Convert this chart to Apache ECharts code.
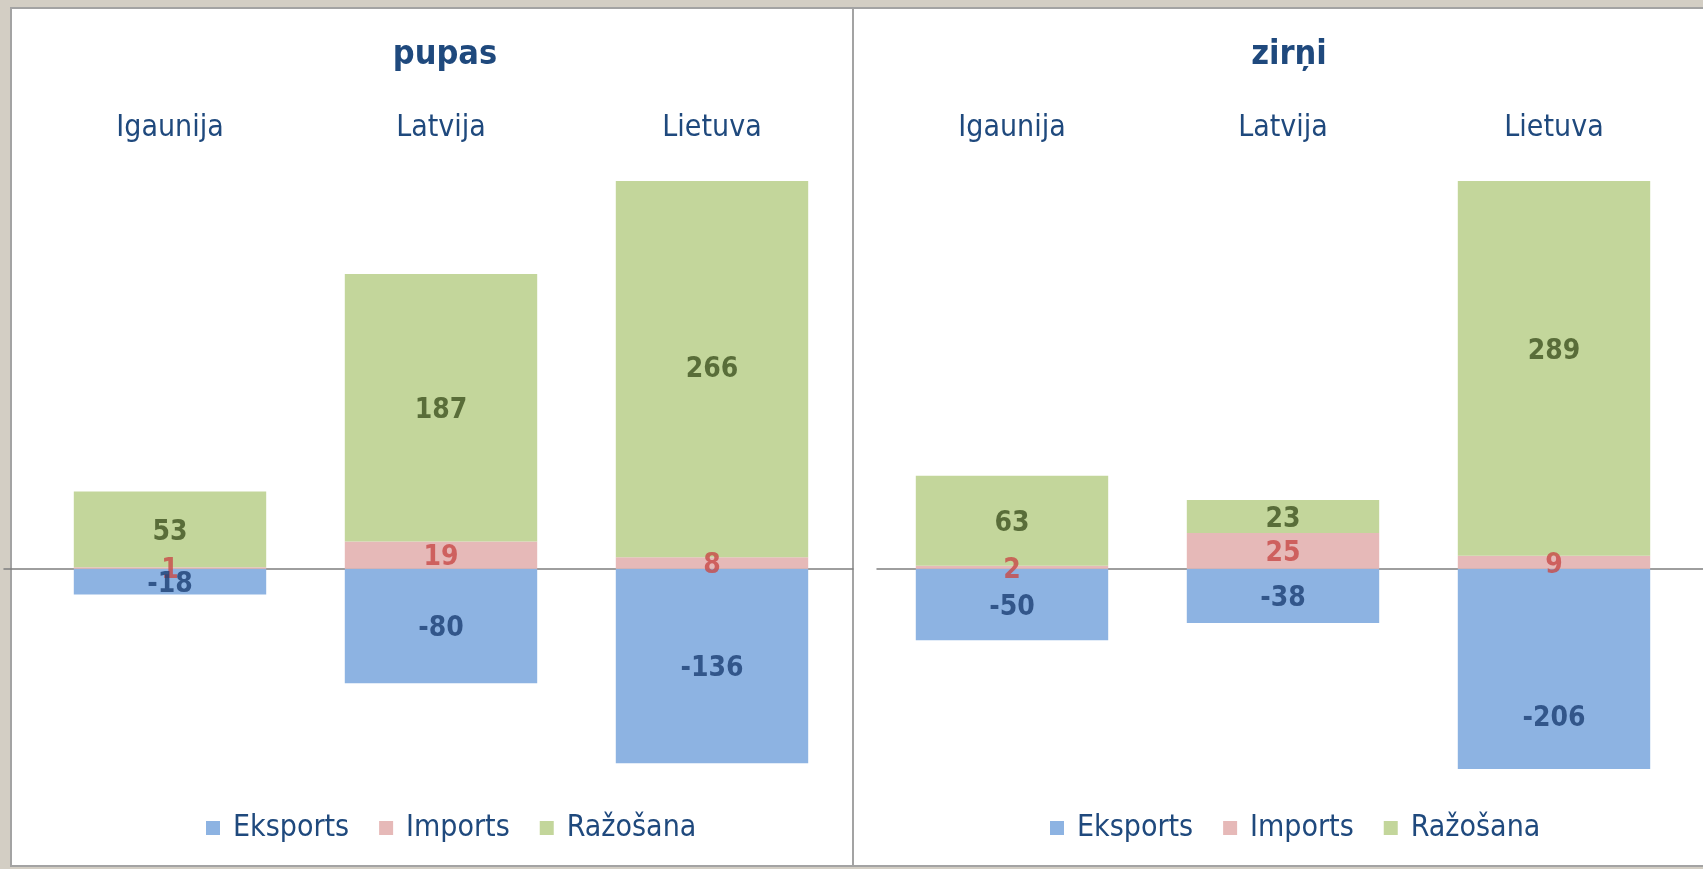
<!DOCTYPE html>
<html>
<head>
<meta charset="utf-8">
<script src="https://cdn.jsdelivr.net/npm/echarts@6/dist/echarts.min.js"></script>
<style>
html,body{margin:0;padding:0;background:#d3cec4;}
#chart{width:1703px;height:869px;}
</style>
</head>
<body>
<div id="chart"></div>
<script>
const categories = ['Igaunija', 'Latvija', 'Lietuva'];
const seriesNames = ['Eksports', 'Imports', 'Ražošana'];
const panelTitles = ['pupas', 'zirņi'];
const pupasEksports = [-18, -80, -136];
const pupasImports = [1, 19, 8];
const pupasRazosana = [53, 187, 266];
const zirniEksports = [-50, -38, -206];
const zirniImports = [2, 25, 9];
const zirniRazosana = [63, 23, 289];

const panelData = [
  [pupasEksports, pupasImports, pupasRazosana],
  [zirniEksports, zirniImports, zirniRazosana]
];

const FONT = "'DejaVu Sans Condensed', 'Liberation Sans', sans-serif";
const barColors = ['#8db3e2', '#e6b9b8', '#c3d69b'];
const labelColors = ['#1c3f74', '#c84a47', '#3e5220'];
const textColor = '#1f497d';
const Y_MIN = -140, Y_MAX = 271;

const panels = [
  { gridLeft: 34.5, center: 440, legendLeft: 201, lineLeft: 4, lineWidth: 849 },
  { gridLeft: 876.5, center: 1284, legendLeft: 1045, lineLeft: 877, lineWidth: 826 }
];

const grids = [], xAxes = [], yAxes = [], series = [], titles = [], legends = [];

panels.forEach((p, pi) => {
  grids.push({ left: p.gridLeft, width: 813, top: 181, height: 588 });
  xAxes.push({
    type: 'category', gridIndex: pi, data: categories, position: 'top',
    axisLine: { show: false, onZero: false }, axisTick: { show: false },
    axisLabel: { fontFamily: FONT, fontSize: 30, color: textColor, margin: 38 }
  });
  yAxes.push({
    type: 'value', gridIndex: pi, min: Y_MIN, max: Y_MAX, show: false,
    splitLine: { show: false }
  });
  const vals = panelData[pi];
  vals.forEach((arr, k) => {
    series.push({
      name: seriesNames[k], type: 'bar', stack: 'p' + pi,
      xAxisIndex: pi, yAxisIndex: pi,
      barCategoryGap: '29%', data: arr,
      itemStyle: { color: barColors[k] },
      label: { show: false }, clip: true, silent: true
    });
  });
  const posAcc = categories.map(() => 0);
  const negAcc = categories.map(() => 0);
  vals.forEach((arr, k) => {
    const pts = arr.map((v, j) => {
      let mid;
      if (v >= 0) { mid = posAcc[j] + v / 2; posAcc[j] += v; }
      else { mid = negAcc[j] + v / 2; negAcc[j] += v; }
      return { value: [j, mid], raw: v };
    });
    series.push({
      name: 'lbl' + pi + '_' + k, type: 'scatter',
      xAxisIndex: pi, yAxisIndex: pi,
      symbol: 'circle', symbolSize: 1, itemStyle: { color: 'rgba(0,0,0,0)' }, silent: true,
      z: 5 + (2 - k),
      data: pts,
      label: {
        show: true, position: 'inside', offset: [0, 3], formatter: (q) => String(q.data.raw),
        fontFamily: FONT, fontSize: 28, fontWeight: 'bold', color: labelColors[k]
      }
    });
  });
  titles.push({
    text: panelTitles[pi], left: p.center, top: 33, textAlign: 'center',
    textStyle: { fontFamily: FONT, fontSize: 34, fontWeight: 'bold', color: textColor }
  });
  legends.push({
    data: seriesNames, left: p.legendLeft, top: 808, orient: 'horizontal',
    icon: 'rect', itemWidth: 14, itemHeight: 14, itemGap: 30,
    textStyle: { fontFamily: FONT, fontSize: 30, color: textColor, padding: [0, 0, 0, 8] }
  });
});

// decorative zero-line grids (wider than the bar grids)
panels.forEach((p, pi) => {
  const gi = 2 + pi;
  grids.push({ left: p.lineLeft, width: p.lineWidth, top: 181, height: 588 });
  xAxes.push({
    type: 'value', gridIndex: gi, min: 0, max: 1, splitLine: { show: false },
    axisLine: { show: true, onZero: true, lineStyle: { color: '#7f7f7f', width: 1.5 } },
    axisTick: { show: false }, axisLabel: { show: false }
  });
  yAxes.push({ type: 'value', gridIndex: gi, min: Y_MIN, max: Y_MAX, show: false, splitLine: { show: false } });
});

const chart = echarts.init(document.getElementById('chart'));
chart.setOption({
  backgroundColor: '#d3cec4',
  animation: false,
  title: titles,
  legend: legends,
  grid: grids,
  xAxis: xAxes,
  yAxis: yAxes,
  graphic: [
    { type: 'rect', z: -1, shape: { x: 11, y: 8, width: 842, height: 858 },
      style: { fill: '#ffffff', stroke: '#a3a3a3', lineWidth: 2 } },
    { type: 'rect', z: -1, shape: { x: 853, y: 8, width: 852, height: 858 },
      style: { fill: '#ffffff', stroke: '#a3a3a3', lineWidth: 2 } }
  ],
  series: series
});
</script>
</body>
</html>
